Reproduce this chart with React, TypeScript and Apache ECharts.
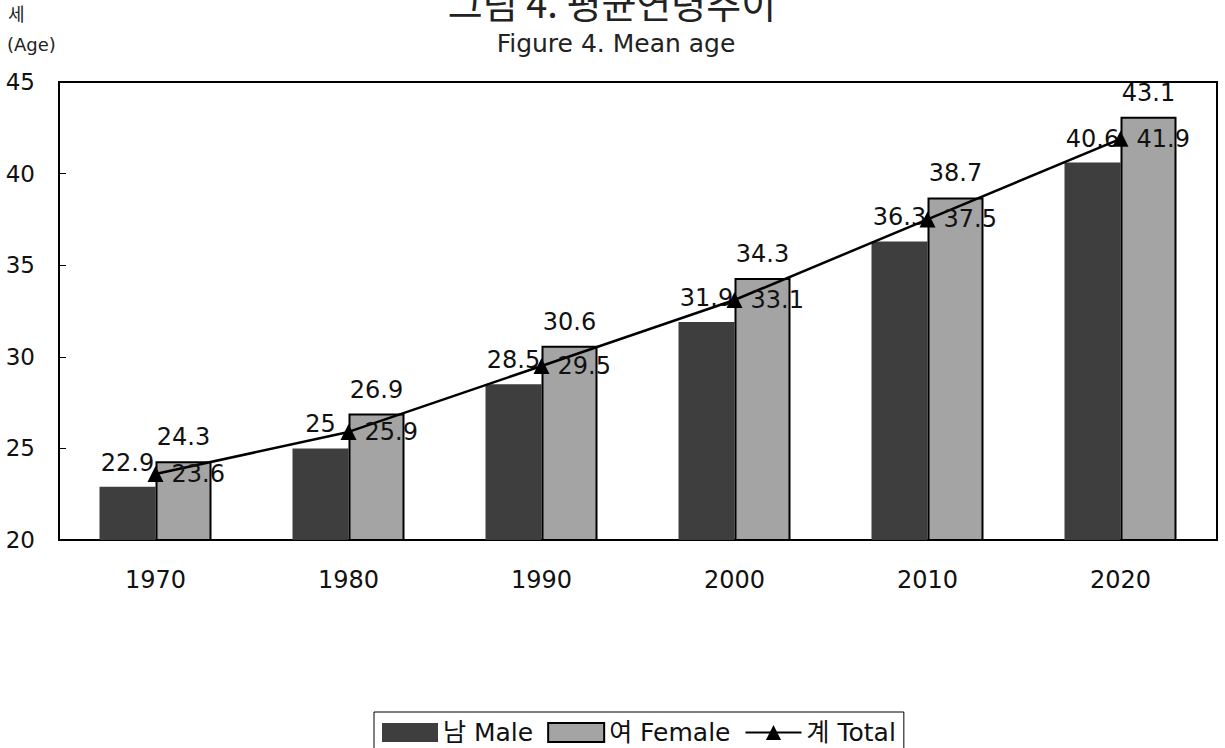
import React, { useEffect, useRef } from "react";
import * as echarts from "echarts";

const years = ["1970", "1980", "1990", "2000", "2010", "2020"];
const male = [22.9, 25, 28.5, 31.9, 36.3, 40.6];
const female = [24.3, 26.9, 30.6, 34.3, 38.7, 43.1];
const total = [23.6, 25.9, 29.5, 33.1, 37.5, 41.9];
const yTicks = { min: 20, max: 45, interval: 5 };

const FONT = "'DejaVu Sans', 'Noto Sans CJK KR', sans-serif";

export default function App() {
  const ref = useRef<HTMLDivElement>(null);
  useEffect(() => {
    if (!ref.current) return;
    const chart = echarts.init(ref.current, null, { renderer: "svg" });
    chart.setOption({
      animation: false,
      backgroundColor: "#ffffff",
      textStyle: { fontFamily: FONT, color: "#111" },
      graphic: [
        {
          type: "text",
          x: 612,
          y: 1,
          style: {
            text: "그림 4. 평균연령추이",
            font: `38px 'Noto Sans CJK KR', sans-serif`,
            fill: "#222",
            align: "center",
            verticalAlign: "middle",
          },
        },
        {
          type: "text",
          x: 616,
          y: 43,
          style: {
            text: "Figure 4. Mean age",
            font: `25px ${FONT}`,
            fill: "#222",
            align: "center",
            verticalAlign: "middle",
          },
        },
        { type: "text", x: 8, y: 5, style: { text: "세", font: `18px ${FONT}`, fill: "#222" } },
        { type: "text", x: 7, y: 35, style: { text: "(Age)", font: `18px ${FONT}`, fill: "#222" } },
      ],
      grid: {
        left: 59,
        right: 8,
        top: 82,
        bottom: 208,
        show: true,
        borderColor: "#000",
        borderWidth: 2,
        backgroundColor: "transparent",
      },
      legend: {
        left: 374,
        top: 712,
        orient: "horizontal",
        borderColor: "#000",
        borderWidth: 1,
        padding: [8, 8, 12, 8],
        itemGap: 14,
        itemWidth: 56,
        itemHeight: 19,
        textStyle: { fontSize: 25, fontFamily: FONT, color: "#111" },
        data: [
          { name: "남 Male", icon: "rect" },
          { name: "여 Female", icon: "rect" },
          { name: "계 Total" },
        ],
      },
      xAxis: {
        type: "category",
        data: years,
        axisLine: { show: true, lineStyle: { color: "#000", width: 2 } },
        axisTick: { show: false },
        axisLabel: { fontSize: 24, color: "#111", margin: 28, fontFamily: FONT },
        splitLine: { show: false },
      },
      yAxis: {
        type: "value",
        min: yTicks.min,
        max: yTicks.max,
        interval: yTicks.interval,
        axisLine: { show: true, lineStyle: { color: "#000", width: 2 } },
        axisTick: { show: true, inside: true, length: 7, lineStyle: { color: "#000" } },
        axisLabel: { fontSize: 23, color: "#111", margin: 24, fontFamily: FONT },
        splitLine: { show: false },
      },
      series: [
        {
          name: "남 Male",
          type: "bar",
          data: male,
          barWidth: 56,
          barGap: "0%",
          itemStyle: { color: "#3e3e3e", borderColor: "#3e3e3e", borderWidth: 0 },
          label: { show: true, position: "top", distance: 12, fontSize: 24, color: "#111", fontFamily: FONT },
          z: 2,
        },
        {
          name: "여 Female",
          type: "bar",
          data: female,
          barWidth: 56,
          barGap: "0%",
          itemStyle: { color: "#a4a4a4", borderColor: "#000", borderWidth: 2 },
          label: { show: true, position: "top", distance: 12, fontSize: 24, color: "#111", fontFamily: FONT },
          z: 2,
        },
        {
          name: "계 Total",
          type: "line",
          data: total,
          symbol: "triangle",
          symbolSize: 16,
          itemStyle: { color: "#000" },
          lineStyle: { color: "#000", width: 2.5 },
          label: { show: true, position: "right", distance: 8, fontSize: 24, color: "#111", fontFamily: FONT },
          z: 5,
        },
      ],
    });
    return () => chart.dispose();
  }, []);
  return <div ref={ref} style={{ width: 1225, height: 748, position: "absolute", left: 0, top: 0 }} />;
}
